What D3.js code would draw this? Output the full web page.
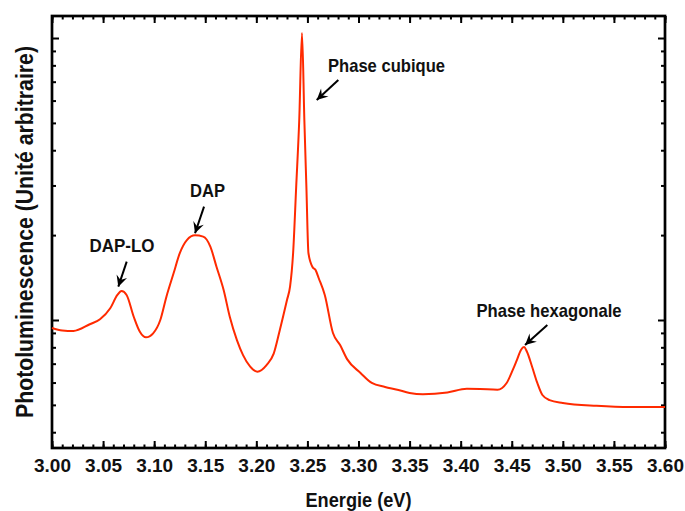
<!doctype html>
<html>
<head>
<meta charset="UTF-8">
<title>Photoluminescence</title>
<script src="https://d3js.org/d3.v7.min.js"></script>
<style>
  body { margin: 0; background: white; }
  svg text { font-family: "Liberation Sans", Arial, sans-serif; font-weight: bold; fill: #111; }
</style>
</head>
<body>
<svg id="chart" width="685" height="511"></svg>
<script>
// spectrum (energy in eV, intensity in arbitrary units, log axis)
var energy = [3.000, 3.010, 3.021, 3.037, 3.047, 3.057, 3.064, 3.068, 3.073, 3.080,
              3.086, 3.092, 3.099, 3.106, 3.112, 3.119, 3.125, 3.132, 3.140, 3.148,
              3.155, 3.161, 3.168, 3.174, 3.181, 3.187, 3.194, 3.201, 3.210, 3.217,
              3.223, 3.230, 3.233, 3.236, 3.239, 3.242, 3.2447, 3.247, 3.249, 3.251,
              3.255, 3.258, 3.261, 3.267, 3.275, 3.282, 3.289, 3.302, 3.313, 3.326,
              3.338, 3.350, 3.363, 3.387, 3.406, 3.419, 3.436, 3.445, 3.451, 3.455,
              3.459, 3.462, 3.465, 3.470, 3.475, 3.480, 3.487, 3.500, 3.533, 3.566, 3.600];
var intensity = [0.937, 0.918, 0.914, 0.966, 1.006, 1.100, 1.227, 1.267, 1.227, 1.027,
                 0.909, 0.868, 0.897, 1.000, 1.210, 1.464, 1.723, 1.921, 1.996, 1.975,
                 1.820, 1.545, 1.277, 1.027, 0.849, 0.751, 0.683, 0.656, 0.692, 0.760,
                 0.922, 1.177, 1.313, 1.728, 2.962, 5.120, 10.42, 5.120, 2.962, 1.728,
                 1.541, 1.504, 1.409, 1.227, 0.899, 0.815, 0.725, 0.649, 0.598, 0.579,
                 0.566, 0.551, 0.545, 0.553, 0.570, 0.569, 0.566, 0.598, 0.665, 0.721,
                 0.783, 0.802, 0.770, 0.681, 0.598, 0.542, 0.520, 0.508, 0.496, 0.491, 0.491];

var xMajor = d3.range(0, 13).map(function (i) { return 3.0 + i * 0.05; });
var xMinor = d3.range(0, 61).map(function (i) { return 3.0 + i * 0.01; });
var yMajor = [1, 10];
var yMinor = [0.4, 0.5, 0.6, 0.7, 0.8, 0.9, 2, 3, 4, 5, 6, 7, 8, 9];

// labels and the peak each arrow points to
var labels = ["DAP-LO", "DAP", "Phase cubique", "Phase hexagonale"];
var labelEnergy = [3.0649, 3.140, 3.2591, 3.463];
var labelIntensity = [1.313, 2.03, 6.03, 0.815];

// layout of the annotations relative to the arrow tip (px)
var annLayout = [
  { tail: [8.4, -25], text: [3.7, -35], len: 65 },
  { tail: [9, -26.6], text: [12.5, -36.6], len: 35 },
  { tail: [21.6, -20], text: [69.8, -28.3], len: 117 },
  { tail: [22.3, -20], text: [24, -28.3], len: 145 }
];

var mLeft = 52, mRight = 665, mTop = 16, mBottom = 448;
var svg = d3.select("#chart");

var x = d3.scaleLinear().domain([3.0, 3.6]).range([mLeft, mRight]);
var y = d3.scaleLog().domain([0.3516, 11.97]).range([mBottom, mTop]);

// ticks (all pointing into the plot)
function styleAxis(g) {
  g.select(".domain").remove();
  g.selectAll("line").attr("stroke", "#000").attr("stroke-width", 2);
}
svg.append("g").attr("transform", "translate(0," + mBottom + ")")
  .call(d3.axisBottom(x).tickValues(xMinor).tickSize(-3.5).tickFormat(""))
  .call(styleAxis);
svg.append("g").attr("transform", "translate(0," + mTop + ")")
  .call(d3.axisTop(x).tickValues(xMinor).tickSize(-3.5).tickFormat(""))
  .call(styleAxis);
svg.append("g").attr("transform", "translate(0," + mTop + ")")
  .call(d3.axisTop(x).tickValues(xMajor).tickSize(-7).tickFormat(""))
  .call(styleAxis);
var xAx = svg.append("g").attr("transform", "translate(0," + mBottom + ")")
  .call(d3.axisBottom(x).tickValues(xMajor).tickSize(-7).tickPadding(10.3).tickFormat(d3.format(".2f")))
  .call(styleAxis);
xAx.selectAll("text")
  .style("font-family", "'Liberation Sans', Arial, sans-serif")
  .style("font-weight", "bold")
  .style("font-size", "19px")
  .attr("textLength", 37).attr("lengthAdjust", "spacingAndGlyphs")
  .attr("fill", "#111");

svg.append("g").attr("transform", "translate(" + mLeft + ",0)")
  .call(d3.axisLeft(y).tickValues(yMinor).tickSize(-4).tickFormat(""))
  .call(styleAxis);
svg.append("g").attr("transform", "translate(" + mLeft + ",0)")
  .call(d3.axisLeft(y).tickValues(yMajor).tickSize(-7).tickFormat(""))
  .call(styleAxis);
svg.append("g").attr("transform", "translate(" + mRight + ",0)")
  .call(d3.axisRight(y).tickValues(yMinor).tickSize(-4).tickFormat(""))
  .call(styleAxis);
svg.append("g").attr("transform", "translate(" + mRight + ",0)")
  .call(d3.axisRight(y).tickValues(yMajor).tickSize(-7).tickFormat(""))
  .call(styleAxis);

// frame
svg.append("rect")
  .attr("x", mLeft).attr("y", mTop)
  .attr("width", mRight - mLeft).attr("height", mBottom - mTop)
  .attr("fill", "none").attr("stroke", "#000").attr("stroke-width", 2.7);

// spectrum
var pts = energy.map(function (e, i) { return [e, intensity[i]]; });
var line = d3.line()
  .x(function (d) { return x(d[0]); })
  .y(function (d) { return y(d[1]); })
  .curve(d3.curveMonotoneX);
svg.append("path")
  .datum(pts)
  .attr("d", line)
  .attr("fill", "none")
  .attr("stroke", "#ff2a00")
  .attr("stroke-width", 2)
  .attr("stroke-linejoin", "round");

// arrows
svg.append("defs").append("marker")
  .attr("id", "head")
  .attr("markerUnits", "userSpaceOnUse")
  .attr("viewBox", "-12 -6 14 12")
  .attr("markerWidth", 14).attr("markerHeight", 12)
  .attr("refX", 0).attr("refY", 0)
  .attr("orient", "auto")
  .append("path")
  .attr("d", "M0,0 L-11,-5.5 L-7,0 L-11,5.5 Z")
  .attr("fill", "#000");

labels.forEach(function (txt, i) {
  var tx = x(labelEnergy[i]), ty = y(labelIntensity[i]);
  var L = annLayout[i];
  svg.append("line")
    .attr("x1", tx + L.tail[0]).attr("y1", ty + L.tail[1])
    .attr("x2", tx).attr("y2", ty)
    .attr("stroke", "#000").attr("stroke-width", 2)
    .attr("marker-end", "url(#head)");
  svg.append("text")
    .attr("x", tx + L.text[0]).attr("y", ty + L.text[1])
    .attr("text-anchor", "middle")
    .attr("textLength", L.len).attr("lengthAdjust", "spacingAndGlyphs")
    .style("font-size", "19px")
    .text(txt);
});

// axis titles
svg.append("text")
  .attr("x", (mLeft + mRight) / 2).attr("y", 506.5)
  .attr("text-anchor", "middle")
  .attr("textLength", 106).attr("lengthAdjust", "spacingAndGlyphs")
  .style("font-size", "21px")
  .text("Energie (eV)");
svg.append("text")
  .attr("transform", "translate(33," + ((mTop + mBottom) / 2) + ") rotate(-90)")
  .attr("text-anchor", "middle")
  .attr("textLength", 372).attr("lengthAdjust", "spacingAndGlyphs")
  .style("font-size", "23px")
  .text("Photoluminescence (Unité arbitraire)");
</script>
</body>
</html>
